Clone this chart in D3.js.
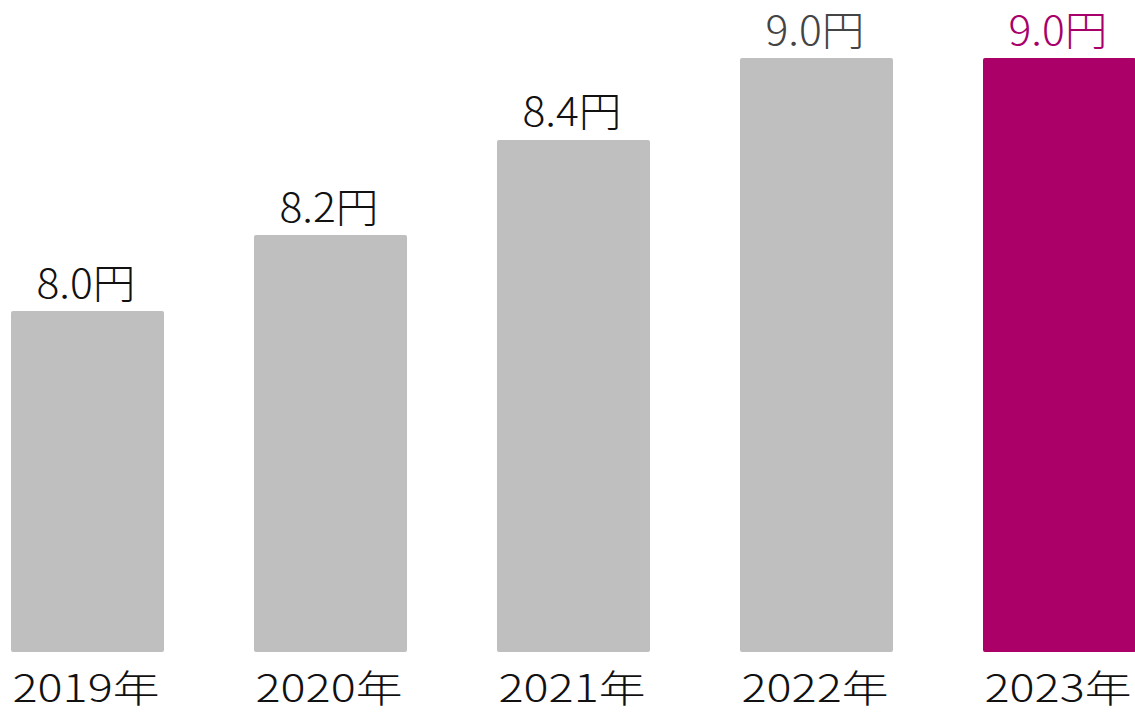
<!DOCTYPE html>
<html>
<head>
<meta charset="utf-8">
<script src="https://cdn.jsdelivr.net/npm/d3@7"></script>
<style>
  html, body { margin: 0; padding: 0; background: #fff; overflow: hidden; }
  text { font-family: "Noto Sans CJK JP", "Noto Sans", sans-serif; font-weight: 300; }
</style>
</head>
<body>
<div id="chart"></div>
<script>
const years = ["2019年", "2020年", "2021年", "2022年", "2023年"];
const values = [8.0, 8.2, 8.4, 9.0, 9.0];
// bar lengths as drawn in the picture (axis is not to scale), tallest = 100
const barLength = [57.4, 70.2, 86.2, 100, 100];
const labelColors = ["#111111", "#111111", "#111111", "#444444", "#a8006a"];
const barColors = ["#bfbfbf", "#bfbfbf", "#bfbfbf", "#bfbfbf", "#ab0067"];

const width = 1135;
const height = 713;
const baseline = 652;
const plotTop = 58;

const svg = d3
  .select("#chart")
  .append("svg")
  .attr("width", width)
  .attr("height", height)
  .style("display", "block");

const data = years.map((y, i) => ({
  year: y,
  value: values[i],
  len: barLength[i],
  labelColor: labelColors[i],
  barColor: barColors[i],
}));

const xScale = d3
  .scaleBand()
  .domain(years)
  .range([11, 11 + 5 * 243 - 90])
  .paddingInner(90 / 243)
  .paddingOuter(0);

const yScale = d3.scaleLinear().domain([0, 100]).range([baseline, plotTop]);

svg
  .selectAll(".bar")
  .data(data)
  .join("rect")
  .attr("class", "bar")
  .attr("x", (d) => xScale(d.year))
  .attr("y", (d) => yScale(d.len))
  .attr("width", xScale.bandwidth())
  .attr("height", (d) => baseline - yScale(d.len))
  .attr("rx", 2)
  .attr("fill", (d) => d.barColor);

svg
  .selectAll(".value")
  .data(data)
  .join("text")
  .attr("class", "value")
  .attr("x", (d) => xScale(d.year) + xScale.bandwidth() / 2 - 1.5)
  .attr("y", (d) => yScale(d.len) - 13.5)
  .attr("text-anchor", "middle")
  .attr("font-size", 40)
  .attr("textLength", 99)
  .attr("lengthAdjust", "spacingAndGlyphs")
  .attr("fill", (d) => d.labelColor)
  .text((d) => d.value.toFixed(1) + "円");

svg
  .selectAll(".year")
  .data(data)
  .join("text")
  .attr("class", "year")
  .attr("x", (d) => xScale(d.year) + xScale.bandwidth() / 2 - 1.5)
  .attr("y", 702)
  .attr("text-anchor", "middle")
  .attr("font-size", 38)
  .attr("textLength", 147)
  .attr("lengthAdjust", "spacingAndGlyphs")
  .attr("fill", "#111111")
  .text((d) => d.year);
</script>
</body>
</html>
